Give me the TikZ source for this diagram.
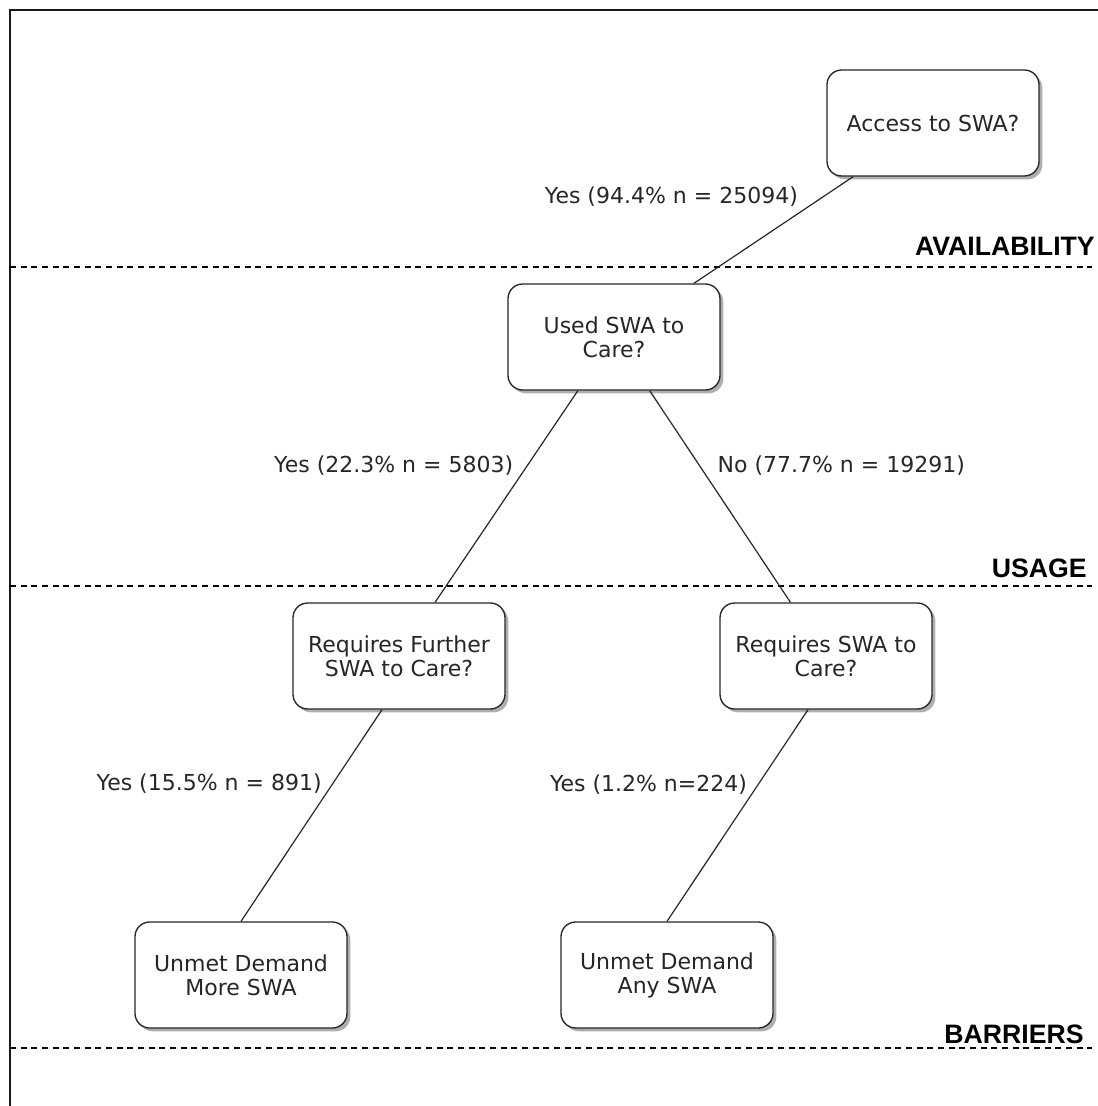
\documentclass[tikz,border=0pt]{standalone}
\usepackage{fontspec}
\setmainfont{DejaVu Sans}
\newfontfamily\headfont{Liberation Sans}
\usetikzlibrary{positioning,shadows}

\begin{document}
\begin{tikzpicture}[
    x=0.75pt, y=-0.75pt,
    qbox/.style={draw=black!85,line width=1pt,rounded corners=11pt,fill=white,
                 minimum width=159pt,minimum height=79.5pt,align=center,
                 text=black!85,font=\fontsize{16.5}{18}\selectfont,
                 drop shadow={shadow xshift=2.5pt,shadow yshift=-2.5pt,
                              fill=black!45,opacity=0.7}},
    link/.style={line width=0.9pt,draw=black!85},
    lbl/.style={inner sep=0pt,outer sep=0pt,text=black!85,
                font=\fontsize{16.5}{18}\selectfont},
    tier/.style={anchor=base east,inner sep=0pt,
                 font=\headfont\bfseries\fontsize{20}{22}\selectfont},
    sep/.style={line width=0.8pt,dash pattern=on 4.5pt off 3.5pt}
  ]
    \useasboundingbox (0,0) rectangle (1098,1106);
    % frame
    \draw[line width=1.5pt,black!90] (10,1106) -- (10,10) -- (1098,10);

    % layers
    \draw[sep] (10,267) -- (1092,267);
    \draw[sep] (10,586) -- (1092,586);
    \draw[sep] (10,1048) -- (1092,1048);
    \node[tier] (avail) at (1095,255) {AVAILABILITY};
    \node[tier] (usage) at (1087,577) {USAGE};
    \node[tier] (barriers) at (1084,1043) {BARRIERS};

    % questions
    \node[qbox] (access) at (933,123) {Access to SWA?};
    \node[qbox] (used) at (614,337) {Used SWA to\\Care?};
    \node[qbox] (further) at (399,656) {Requires Further\\SWA to Care?};
    \node[qbox] (requires) at (826,656) {Requires SWA to\\Care?};
    \node[qbox] (moreswa) at (241,975) {Unmet Demand\\More SWA};
    \node[qbox] (anyswa) at (667,975) {Unmet Demand\\Any SWA};

    % answers
    \draw[link] (access) -- node[lbl,pos=0.19,left=18.75pt] (yes1)
          {Yes (94.4\% n = 25094)} (used);
    \draw[link] (used) -- node[lbl,pos=0.355,left=10.5pt] (yes2)
          {Yes (22.3\% n = 5803)} (further);
    \draw[link] (used) -- node[lbl,pos=0.355,right=13.5pt] (no2)
          {No (77.7\% n = 19291)} (requires);
    \draw[link] ([xshift=-12.75pt]further.south) -- node[lbl,pos=0.35,left=8.25pt] (yes3)
          {Yes (15.5\% n = 891)} (moreswa.north);
    \draw[link] ([xshift=-13.5pt]requires.south) -- node[lbl,pos=0.355,left=8.25pt] (yes4)
          {Yes (1.2\% n=224)} (anyswa.north);
  \end{tikzpicture}
\end{document}
